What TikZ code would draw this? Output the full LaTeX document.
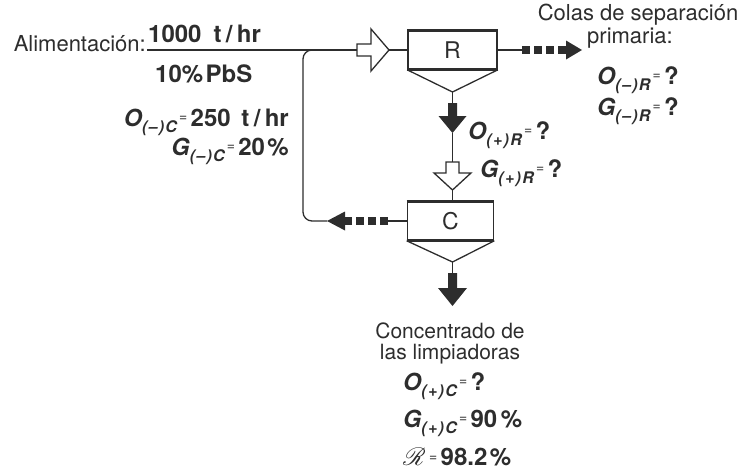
\documentclass[tikz,border=0pt]{standalone}
\usepackage{fontspec}
\setmainfont{TeX Gyre Heros}
\usepackage{mathrsfs}
\definecolor{ink}{RGB}{45,45,45}
\newcommand{\qlab}[3]{{\fontsize{23.5}{26}\selectfont\bfseries\itshape #1}\raisebox{-0.3em}{\fontsize{16}{16}\selectfont\bfseries\itshape\addfontfeature{LetterSpace=8}#2}\hspace{0.1em}\raisebox{0.2em}{\fontsize{14}{14}\selectfont =}\hspace{0.15em}{\fontsize{24}{26}\selectfont\bfseries #3}}
\newcommand{\thr}{t\hspace{0.18em}/\hspace{0.18em}hr}
\tikzset{
  txt/.style={inner sep=0pt, text=ink, font=\fontsize{22}{26}\selectfont},
  bold/.style={font=\fontsize{24}{26}\selectfont\bfseries},
  cell/.style={draw=ink, line width=1.6pt, minimum height=38pt, inner sep=0pt, text=ink, font=\fontsize{23}{26}\selectfont},
  pipe/.style={draw=ink, line width=1.3pt},
  edge/.style={draw=ink, line width=3pt},
  hollow/.style={draw=ink, fill=white, line width=1.3pt, line join=miter},
  dots/.style={draw=ink, line width=8pt, dash pattern=on 8pt off 4pt},
}
\begin{document}
\begin{tikzpicture}[x=1pt,y=-1pt]
\useasboundingbox (0,0) rectangle (739,474);
% units
\node[cell, minimum width=89pt] (R) at (452.5,50) {R};
\node[cell, minimum width=86pt] (C) at (450.5,221) {C};
\draw[edge] (R.north west) -- (R.north east);
\draw[edge] (R.south west) -- (R.south east);
\draw[edge] (C.north west) -- (C.north east);
\draw[edge] (C.south west) -- (C.south east);
\coordinate (Rv) at (452.5,92);
\coordinate (Cv) at (452.5,262);
\draw[pipe, line join=miter] (R.south west) -- (Rv) -- (R.south east);
\draw[pipe, line join=miter] (C.south west) -- (Cv) -- (C.south east);

% feed
\coordinate (feed) at (147,50);
\coordinate (hin) at (357,50);
\coordinate (htip) at (389,50);
\draw[pipe] (feed) -- (hin);
\draw[hollow] (hin) ++(0,-6) -- ++(14,0) -- ++(0,-15) -- (htip) -- ++(-18,21) -- ++(0,-15) -- ++(-14,0) -- cycle;
\draw[pipe] (htip) -- (R.west);

% R tailings (right dashed arrow)
\coordinate (rd0) at (522,50);
\coordinate (rd1) at (566,50);
\coordinate (rtip) at (582,50);
\draw[pipe] (R.east) -- (rd0);
\draw[dots] (rd0) -- (rd1);
\fill[ink] (rd1) ++(0,-9.5) -- (rtip) -- ++(-16,9.5) -- cycle;

% R concentrate (solid down arrow)
\coordinate (ra) at (452.5,103);
\coordinate (ratip) at (452.5,133);
\draw[pipe] (Rv) -- (ra);
\fill[ink] (ra) ++(-4.5,0) -- ++(9,0) -- ++(0,13) -- ++(9.5,0) -- (ratip) -- ++(-14,-17) -- ++(9.5,0) -- cycle;

% hollow down arrow into C
\coordinate (hd) at (452.5,162);
\coordinate (hdtip) at (452.5,190);
\draw[pipe] (ratip) -- (hd);
\draw[hollow] (hd) ++(-6.5,0) -- ++(13,0) -- ++(0,11) -- ++(12,0) -- (hdtip) -- ++(-18.5,-17) -- ++(12,0) -- cycle;
\draw[pipe] (hdtip) -- (hdtip |- C.north);

% C tailings (left dashed arrow) and recycle
\coordinate (cd0) at (388,221);
\coordinate (cd1) at (345,221);
\coordinate (ctip) at (327,221);
\draw[pipe] (C.west) -- (cd0);
\draw[dots] (cd0) -- (cd1);
\fill[ink] (cd1) ++(0,-9.5) -- (ctip) -- ++(18,9.5) -- cycle;
\coordinate (jn) at (326,50);
\draw[pipe, rounded corners=9pt] (ctip) -- (303,221) -- (303,50) -- (jn);

% C concentrate
\coordinate (ca) at (452.5,273);
\coordinate (catip) at (452.5,306);
\draw[pipe] (Cv) -- (ca);
\fill[ink] (ca) ++(-4.5,0) -- ++(9,0) -- ++(0,15) -- ++(10,0) -- (catip) -- ++(-14.5,-18) -- ++(10,0) -- cycle;

% left texts
\node[txt, anchor=base east] (alim) at (146,51) {Alimentación:};
\node[txt, bold, anchor=base west] (q1) at (148,42) {1000\hspace{0.5em}\thr};
\node[txt, bold, anchor=base west] (q2) at (155,82) {10\%\hspace{0.1em}PbS};
\node[txt, anchor=base east] (oc) at (289,126) {\qlab{O}{(–)C}{250\hspace{0.45em}\thr}};
\node[txt, anchor=base east] (gc) at (289,155) {\qlab{G}{(–)C}{20\hspace{0.1em}\%}};

% right texts
\node[txt, anchor=base] (colas) at (638,20) {Colas de separación};
\node[txt, anchor=base] (prim) at (630,43) {primaria:};
\node[txt, anchor=base west] (or) at (597,84) {\qlab{O}{(–)R}{?}};
\node[txt, anchor=base west] (gr) at (597,115) {\qlab{G}{(–)R}{?}};
\node[txt, anchor=base west] (opr) at (468,139) {\qlab{O}{(+)R}{?}};
\node[txt, anchor=base west] (gpr) at (480,177) {\qlab{G}{(+)R}{?}};

% bottom texts
\node[txt, anchor=base, align=center, font=\fontsize{21}{21}\selectfont] (conc) at (450,359) {Concentrado de\\las limpiadoras};
\node[txt, anchor=base west] (opc) at (403,390) {\qlab{O}{(+)C}{?}};
\node[txt, anchor=base west] (gpc) at (403,427) {\qlab{G}{(+)C}{90\hspace{0.15em}\%}};
\node[txt, anchor=base west] (rec) at (403,465) {{\fontsize{32}{32}\selectfont$\mathscr{R}$}\hspace{0.15em}\raisebox{0.15em}{\fontsize{14}{14}\selectfont =}\hspace{0.15em}{\fontsize{24}{26}\selectfont\bfseries 98.2\hspace{0.1em}\%}};
\end{tikzpicture}
\end{document}
